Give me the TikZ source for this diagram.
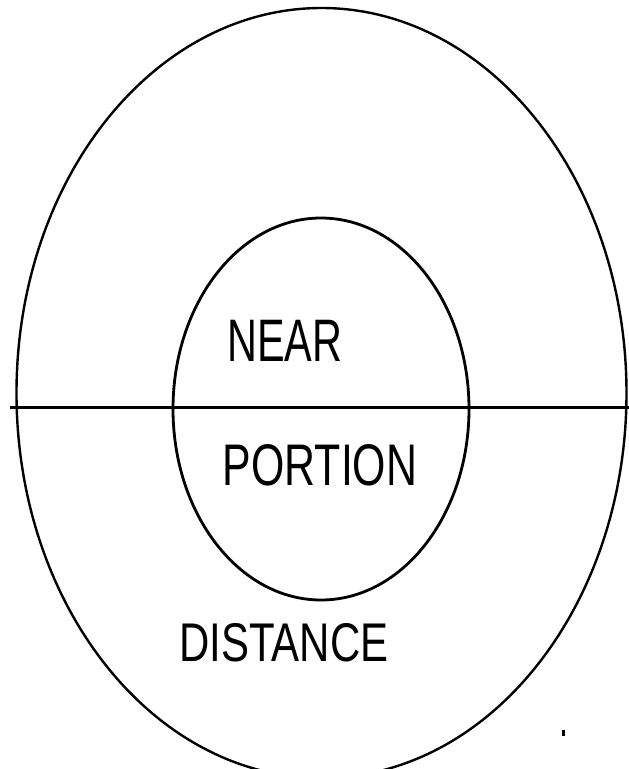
\documentclass[tikz,border=0pt]{standalone}
\usepackage{fontspec}
\setmainfont{Liberation Sans}
\usetikzlibrary{shapes.geometric}

\begin{document}
\begin{tikzpicture}[x=1pt,y=-1pt,
  ring/.style={draw,ellipse,inner sep=0pt,outer sep=0pt,line width=2.4pt},
  word/.style={inner sep=0pt,anchor=base}]
  \useasboundingbox (0,0) rectangle (629,769);
  \node[ring,minimum width=610pt,minimum height=770pt] (outer) at (321.5,393) {};
  \node[ring,minimum width=296pt,minimum height=382pt,line width=2.8pt] (inner) at (321,409) {};
  \coordinate (cutL) at (10,407);
  \coordinate (cutR) at (629,407);
  \draw[line width=3pt] (cutL) -- (cutR);
  \node[word,font=\fontsize{60}{60}\selectfont,xscale=0.69] (near) at (285,361) {NEAR};
  \node[word,font=\fontsize{58.7}{60}\selectfont,xscale=0.73] (portion) at (320,485) {PORTION};
  \node[word,font=\fontsize{54.5}{60}\selectfont,xscale=0.77] (distance) at (284,661) {DISTANCE};
  \fill (562,730) rectangle (565,736);
\end{tikzpicture}
\end{document}
